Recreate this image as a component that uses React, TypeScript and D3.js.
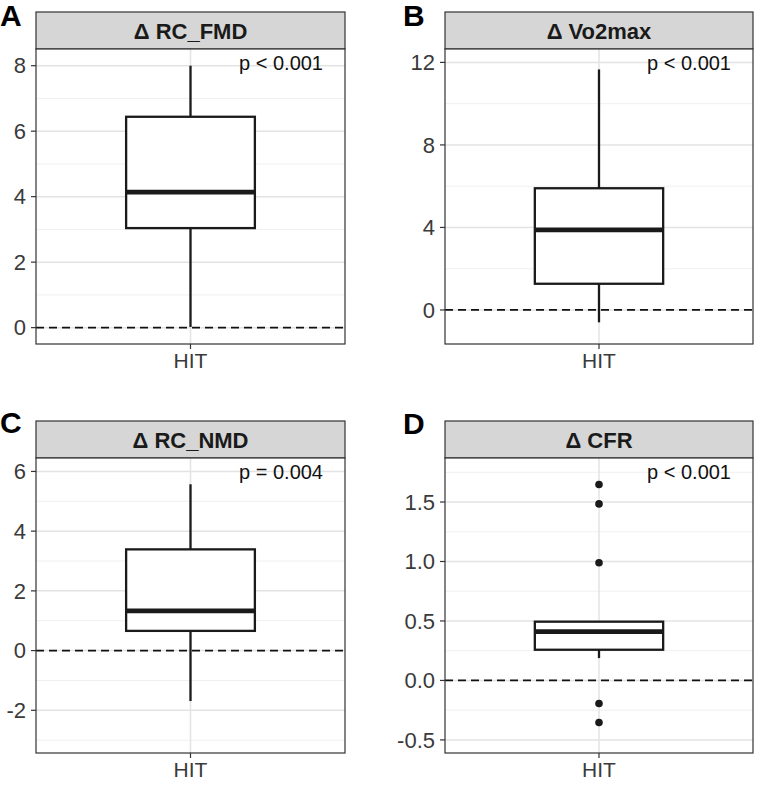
import React from "react";
import * as d3 from "d3";

// ---- data ----
const panelLetters = ["A", "B", "C", "D"];
const panelTitles = ["Δ RC_FMD", "Δ Vo2max", "Δ RC_NMD", "Δ CFR"];
const pLabels = ["p < 0.001", "p < 0.001", "p = 0.004", "p < 0.001"];
const category = "HIT";
// five-number summaries: [lowerWhisker, q1, median, q3, upperWhisker]
const boxA = [0.02, 3.04, 4.14, 6.44, 8.0];
const boxB = [-0.6, 1.27, 3.88, 5.9, 11.66];
const boxC = [-1.69, 0.66, 1.33, 3.39, 5.57];
const boxD = [0.188, 0.258, 0.41, 0.494, 0.5];
const outliersA: number[] = [];
const outliersB: number[] = [];
const outliersC: number[] = [];
const outliersD = [1.647, 1.484, 0.99, -0.194, -0.354];
const domainA = [-0.5, 8.51];
const domainB = [-1.65, 12.65];
const domainC = [-3.43, 6.45];
const domainD = [-0.61, 1.87];
const majorA = [0, 2, 4, 6, 8];
const majorB = [0, 4, 8, 12];
const majorC = [-2, 0, 2, 4, 6];
const majorD = [-0.5, 0, 0.5, 1.0, 1.5];
const minorA = [1, 3, 5, 7];
const minorB = [2, 6, 10];
const minorC = [-3, -1, 1, 3, 5];
const minorD = [-0.25, 0.25, 0.75, 1.25, 1.75];
const tickFmtA = (v: number) => String(v);
const tickFmtD = (v: number) => v.toFixed(1);

const boxes = [boxA, boxB, boxC, boxD];
const outliers = [outliersA, outliersB, outliersC, outliersD];
const domains = [domainA, domainB, domainC, domainD];
const majors = [majorA, majorB, majorC, majorD];
const minors = [minorA, minorB, minorC, minorD];
const fmts = [tickFmtA, tickFmtA, tickFmtA, tickFmtD];

// ---- layout ----
const FONT = "'Liberation Sans', Arial, Helvetica, sans-serif";
const layouts = [
  { x0: 36, x1: 345, y0: 49, y1: 344, sTop: 12, lx: 0, ly: 26 },
  { x0: 445, x1: 753, y0: 49, y1: 344, sTop: 12, lx: 403, ly: 26 },
  { x0: 36, x1: 345, y0: 458, y1: 753, sTop: 421, lx: 0, ly: 433 },
  { x0: 445, x1: 753, y0: 458, y1: 753, sTop: 421, lx: 403, ly: 434 },
];

function Panel({ i }: { i: number }) {
  const L = layouts[i];
  const y = d3.scaleLinear().domain(domains[i]).range([L.y1, L.y0]);
  const x = d3.scaleBand().domain([category]).range([L.x0, L.x1]).paddingInner(0).paddingOuter(0);
  const xc = (x(category) as number) + x.bandwidth() / 2;
  const bw = x.bandwidth() * (0.5 / 1.2);
  const [lw, q1, med, q3, uw] = boxes[i];
  return (
    <g>
      <text x={L.lx} y={L.ly} fontFamily={FONT} fontWeight="bold" fontSize={30} fill="#000">
        {panelLetters[i]}
      </text>
      {/* strip */}
      <rect x={L.x0} y={L.sTop} width={L.x1 - L.x0} height={L.y0 - L.sTop} fill="#d6d6d6" stroke="#333" strokeWidth={1.2} />
      <text x={(L.x0 + L.x1) / 2} y={(L.sTop + L.y0) / 2 + 8} textAnchor="middle" fontFamily={FONT} fontWeight="bold" fontSize={22} fill="#1a1a1a">
        {panelTitles[i]}
      </text>
      {/* panel bg */}
      <rect x={L.x0} y={L.y0} width={L.x1 - L.x0} height={L.y1 - L.y0} fill="#fff" />
      {minors[i].map((v) => (
        <line key={"mi" + v} x1={L.x0} x2={L.x1} y1={y(v)} y2={y(v)} stroke="#f0f0f0" strokeWidth={1} />
      ))}
      {majors[i].map((v) => (
        <line key={"ma" + v} x1={L.x0} x2={L.x1} y1={y(v)} y2={y(v)} stroke="#e3e3e3" strokeWidth={1.5} />
      ))}
      <line x1={xc} x2={xc} y1={L.y0} y2={L.y1} stroke="#e3e3e3" strokeWidth={1.5} />
      {/* dashed zero line */}
      <line x1={L.x0} x2={L.x1} y1={y(0)} y2={y(0)} stroke="#111" strokeWidth={1.7} strokeDasharray="8,5" />
      {/* whiskers */}
      <line x1={xc} x2={xc} y1={y(q3)} y2={y(uw)} stroke="#1a1a1a" strokeWidth={2.3} />
      <line x1={xc} x2={xc} y1={y(q1)} y2={y(lw)} stroke="#1a1a1a" strokeWidth={2.3} />
      {/* box */}
      <rect x={xc - bw / 2} y={y(q3)} width={bw} height={y(q1) - y(q3)} fill="#fff" stroke="#1a1a1a" strokeWidth={2.3} />
      <line x1={xc - bw / 2} x2={xc + bw / 2} y1={y(med)} y2={y(med)} stroke="#1a1a1a" strokeWidth={4.8} />
      {outliers[i].map((v) => (
        <circle key={"o" + v} cx={xc} cy={y(v)} r={3.8} fill="#1a1a1a" />
      ))}
      {/* p label */}
      <text x={L.x1 - 22} y={L.y0 + 21} textAnchor="end" fontFamily={FONT} fontSize={20} fill="#111">
        {pLabels[i]}
      </text>
      {/* border */}
      <rect x={L.x0} y={L.y0} width={L.x1 - L.x0} height={L.y1 - L.y0} fill="none" stroke="#333" strokeWidth={1.2} />
      {/* y axis */}
      {majors[i].map((v) => (
        <g key={"t" + v}>
          <line x1={L.x0 - 5} x2={L.x0} y1={y(v)} y2={y(v)} stroke="#333" strokeWidth={1.2} />
          <text x={L.x0 - 10} y={y(v) + 7.8} textAnchor="end" fontFamily={FONT} fontSize={22} fill="#3a3a3a">
            {fmts[i](v)}
          </text>
        </g>
      ))}
      {/* x axis */}
      <line x1={xc} x2={xc} y1={L.y1} y2={L.y1 + 5} stroke="#333" strokeWidth={1.2} />
      <text x={xc} y={L.y1 + 24} textAnchor="middle" fontFamily={FONT} fontSize={21} fill="#3a3a3a">
        {category}
      </text>
    </g>
  );
}

export default function App() {
  return (
    <svg width={760} height={785} style={{ position: "absolute", left: 0, top: 0, background: "#fff" }}>
      <rect width={760} height={785} fill="#fff" />
      {[0, 1, 2, 3].map((i) => (
        <Panel key={i} i={i} />
      ))}
    </svg>
  );
}
